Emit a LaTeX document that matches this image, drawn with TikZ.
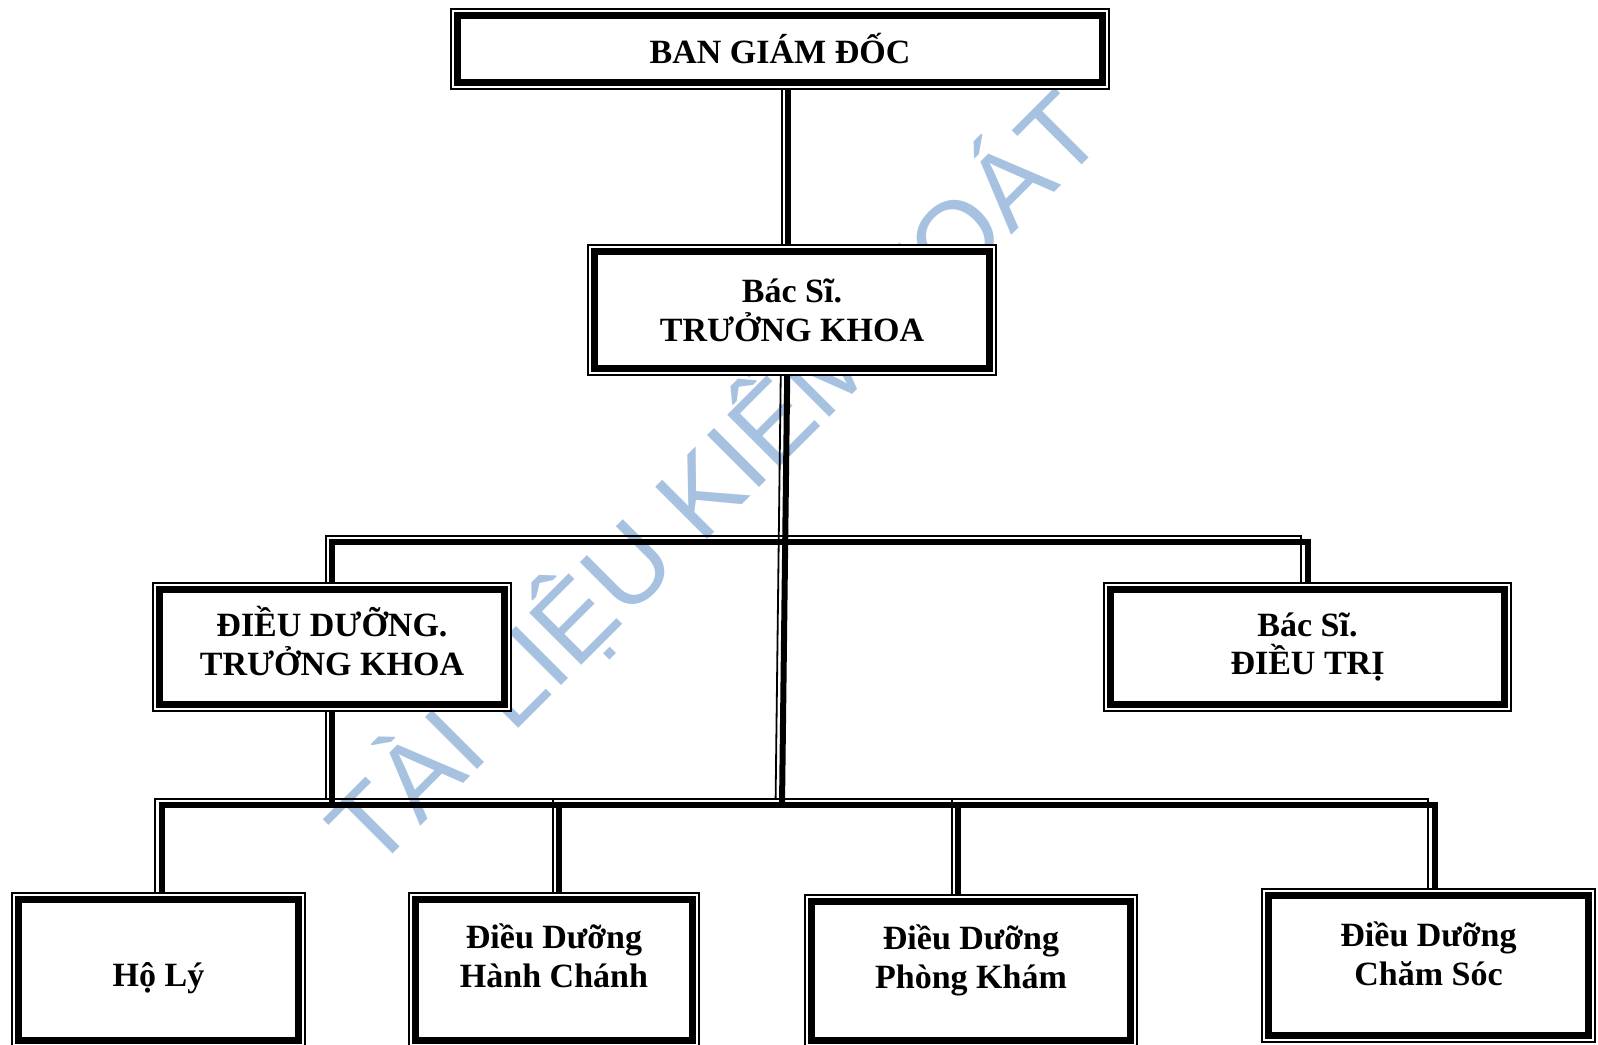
\documentclass[tikz,border=0pt]{standalone}
\usepackage{fontspec}
\setmainfont{Liberation Serif}
\newfontfamily\wmfont{Liberation Sans}
\usepackage{tikz}
\usetikzlibrary{backgrounds,calc}
\definecolor{wmblue}{RGB}{167,194,224}
\tikzset{
  unitbox/.style={draw, line width=0.75pt, fill=white, inner sep=0pt, align=center,
    font=\bfseries\fontsize{17}{19.4}\selectfont,
    path picture={\draw[line width=3.4pt]
      ([shift={(3.2pt,3.2pt)}]path picture bounding box.south west) rectangle
      ([shift={(-3.2pt,-3.2pt)}]path picture bounding box.north east);}},
  txt/.style={align=center, inner sep=0pt, font=\bfseries\fontsize{17}{19.4}\selectfont},
  wmtext/.style={font=\wmfont\fontsize{53.5}{60}\selectfont, text=wmblue,
    rotate=45, anchor=base, inner sep=0pt},
  link/.style={line width=3pt, postaction={draw, line width=0.9pt,
    transform canvas={shift={(-3.2pt,3.2pt)}}}}
}

\begin{document}
\begin{tikzpicture}[x=0.5pt, y=-0.5pt]
\useasboundingbox (0,0) rectangle (1598,1044);

% hang tren
\node[unitbox, minimum width=329pt, minimum height=40pt] (bgd) at (780,49) {BAN GIÁM ĐỐC};
\node[unitbox, minimum width=204pt, minimum height=65pt] (bstk) at (792,310) {Bác Sĩ.\\TRƯỞNG KHOA};
\node[unitbox, minimum width=179pt, minimum height=64pt] (ddtk) at (332,647) {};
\node[unitbox, minimum width=203.5pt, minimum height=64pt] (bsdt) at (1307.5,647) {Bác Sĩ.\\ĐIỀU TRỊ};
\node[txt] (ddtktxt) at ([yshift=3pt]ddtk.center) {ĐIỀU DƯỠNG.\\TRƯỞNG KHOA};

% hang duoi
\node[unitbox, minimum width=146.5pt, minimum height=77pt] (holy) at (158.5,970) {};
\node[unitbox, minimum width=145pt, minimum height=77pt] (hanhchanh) at (554,970) {};
\node[unitbox, minimum width=166pt, minimum height=76pt] (phongkham) at (971,971) {};
\node[unitbox, minimum width=166.5pt, minimum height=76.5pt] (chamsoc) at (1428.5,965.5) {};
\node[txt] (holytxt) at ([yshift=-4pt]holy.center) {Hộ Lý};
\node[txt] (hanhchanhtxt) at ([yshift=7pt]hanhchanh.center) {Điều Dưỡng\\Hành Chánh};
\node[txt] (phongkhamtxt) at ([yshift=5.5pt]phongkham.center) {Điều Dưỡng\\Phòng Khám};
\node[txt] (chamsoctxt) at ([yshift=6pt]chamsoc.center) {Điều Dưỡng\\Chăm Sóc};

\coordinate (upbus) at (0,542);
\coordinate (lowbus) at (0,805);
\coordinate (trunkend) at (782,805);

\begin{scope}[on background layer]
\node[wmtext] (wm) at (741,506) {TÀI LIỆU KIỂM TOÁT};

\draw[link] ([xshift=4pt]bgd.center) -- ([xshift=4pt]bgd.center |- bstk.center);
\draw[link] ([xshift=-2pt]bstk.center) -- (trunkend);
\draw[link] (ddtk.center) |- (bsdt.center |- upbus) -- (bsdt.center);
\draw[link] (ddtk.center) -- (ddtk.center |- lowbus);
\draw[link] ([xshift=1.5pt]holy.center) |- ([xshift=3pt]chamsoc.center |- lowbus) -- ([xshift=3pt]chamsoc.center);
\draw[link] ([xshift=2.7pt]hanhchanh.center |- lowbus) -- ([xshift=2.7pt]hanhchanh.center);
\draw[link] ([xshift=-6.5pt]phongkham.center |- lowbus) -- ([xshift=-6.5pt]phongkham.center);
\end{scope}
\end{tikzpicture}
\end{document}
